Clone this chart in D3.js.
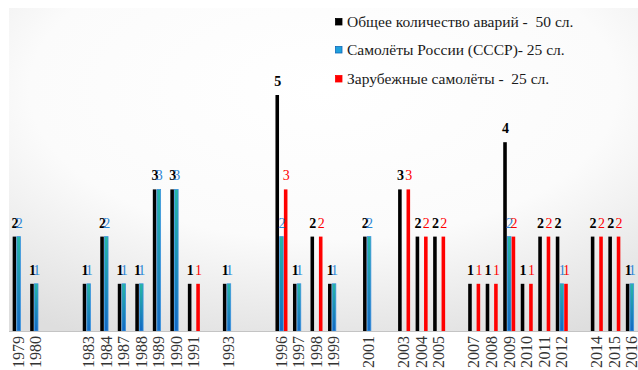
<!DOCTYPE html>
<html>
<head>
<meta charset="utf-8">
<script src="https://cdn.jsdelivr.net/npm/d3@7"></script>
<style>
  body { margin: 0; background: #fff; }
  svg { display: block; }
</style>
</head>
<body>
<div id="chart"></div>
<script>
// years on the axis ("" = empty slot, as in the original)
const years = ['1979', '1980', '', '', '1983', '1984', '1987', '1988', '1989', '1990', '1991', '', '1993', '', '',
  '1996', '1997', '1998', '1999', '', '2001', '', '2003', '2004', '2005', '', '2007', '2008', '2009', '2010',
  '2011', '2012', '', '2014', '2015', '2016'];
// total accidents
const total = [2, 1, 0, 0, 1, 2, 1, 1, 3, 3, 1, 0, 1, 0, 0, 5, 1, 2, 1, 0, 2, 0, 3, 2, 2, 0, 1, 1, 4, 1, 2, 2, 0, 2, 2, 1];
// Russian (USSR) planes
const russia = [2, 1, 0, 0, 1, 2, 1, 1, 3, 3, 0, 0, 1, 0, 0, 2, 1, 0, 1, 0, 2, 0, 0, 0, 0, 0, 0, 0, 2, 0, 0, 1, 0, 0, 0, 1];
// foreign planes
const foreign = [0, 0, 0, 0, 0, 0, 0, 0, 0, 0, 1, 0, 0, 0, 0, 3, 0, 2, 0, 0, 0, 0, 3, 2, 2, 0, 1, 1, 2, 1, 2, 1, 0, 2, 2, 0];

const seriesNames = ['Общее количество аварий -  50 сл.', 'Самолёты России (СССР)- 25 сл.', 'Зарубежные самолёты -  25 сл.'];
const seriesKeys = ['total', 'russia', 'foreign'];

const width = 638;
const height = 370;
const baseY = 331;
const serif = '"Liberation Serif", "Times New Roman", "DejaVu Serif", serif';

const svg = d3.select('#chart')
  .append('svg')
  .attr('width', width)
  .attr('height', height);

const defs = svg.append('defs');

const bg = defs.append('radialGradient')
  .attr('id', 'bg')
  .attr('cx', '50%').attr('cy', '25%').attr('r', '85%');
bg.append('stop').attr('offset', '0%').attr('stop-color', '#ffffff');
bg.append('stop').attr('offset', '55%').attr('stop-color', '#fbfbfb');
bg.append('stop').attr('offset', '100%').attr('stop-color', '#dedede');

const blueGrad = defs.append('linearGradient')
  .attr('id', 'blue')
  .attr('x1', 0).attr('y1', 0).attr('x2', 0).attr('y2', 1);
blueGrad.append('stop').attr('offset', '0%').attr('stop-color', '#27b8a4');
blueGrad.append('stop').attr('offset', '100%').attr('stop-color', '#1368c4');

// plot area
svg.append('rect')
  .attr('x', 9).attr('y', 8)
  .attr('width', width - 9).attr('height', baseY - 8)
  .attr('fill', 'url(#bg)');

const slots = d3.range(years.length);

const x = d3.scaleBand()
  .domain(slots)
  .range([9.6, 9.6 + 17.52 * years.length])
  .paddingInner(0)
  .paddingOuter(0);

const xs = d3.scaleBand()
  .domain(seriesKeys)
  .range([3.06, 3.06 + 12])
  .paddingInner(0.15)
  .paddingOuter(0);

const y = d3.scaleLinear()
  .domain([0, 5])
  .range([baseY, 95]);

const rows = slots.map(i => ({ i, total: total[i], russia: russia[i], foreign: foreign[i] }));

const fills = { total: '#000000', russia: 'url(#blue)', foreign: '#ff0000' };
const labelColors = { total: '#000000', russia: '#2b86d6', foreign: '#ff0000' };

seriesKeys.forEach(key => {
  const data = rows.filter(d => d[key] > 0);
  svg.append('g')
    .selectAll('rect')
    .data(data)
    .enter()
    .append('rect')
    .attr('x', d => x(d.i) + xs(key))
    .attr('y', d => y(d[key]))
    .attr('width', xs.bandwidth())
    .attr('height', d => y(0) - y(d[key]))
    .attr('fill', fills[key])
    .attr('stroke', key === 'russia' ? '#3b93e0' : 'none')
    .attr('stroke-width', 0.8);
});

// value labels
seriesKeys.forEach(key => {
  const data = rows.filter(d => d[key] > 0);
  svg.append('g')
    .selectAll('text')
    .data(data)
    .enter()
    .append('text')
    .attr('x', d => x(d.i) + xs(key) + xs.bandwidth() / 2 + 0.5)
    .attr('y', d => y(d[key]) - 9)
    .attr('text-anchor', 'middle')
    .attr('font-family', serif)
    .attr('font-size', 14)
    .attr('font-weight', key === 'total' ? 'bold' : 'normal')
    .attr('fill', labelColors[key])
    .text(d => d[key]);
});

// x axis
const xAxis = svg.append('g')
  .attr('transform', `translate(0, ${baseY})`)
  .call(d3.axisBottom(x).tickSize(0).tickFormat(i => years[i]));
xAxis.attr('font-family', serif);
xAxis.select('.domain')
  .attr('d', `M9,0.5H${width}`)
  .attr('stroke', '#c4c4c4');
xAxis.selectAll('text')
  .attr('font-family', serif)
  .attr('font-size', 16)
  .attr('fill', '#333')
  .attr('text-anchor', 'end')
  .attr('transform', 'rotate(-90)')
  .attr('x', -5)
  .attr('y', 0)
  .attr('dy', '0.35em');

// legend
const legend = svg.append('g')
  .attr('transform', 'translate(335, 0)');
const legendY = [22, 50, 79];
const legendFill = ['#000000', '#1fa0dc', '#ff0000'];
const legendStroke = ['#000000', '#1068b8', '#ff0000'];
seriesNames.forEach((name, k) => {
  legend.append('rect')
    .attr('x', 0.5).attr('y', legendY[k] - 3.5)
    .attr('width', 6.5).attr('height', 6.5)
    .attr('fill', legendFill[k])
    .attr('stroke', legendStroke[k])
    .attr('stroke-width', 0.8);
  legend.append('text')
    .attr('x', 12)
    .attr('y', legendY[k])
    .attr('dy', '0.35em')
    .attr('font-family', serif)
    .attr('font-size', 15.5)
    .attr('fill', '#1a1a1a')
    .attr('xml:space', 'preserve')
    .text(name);
});
</script>
</body>
</html>
